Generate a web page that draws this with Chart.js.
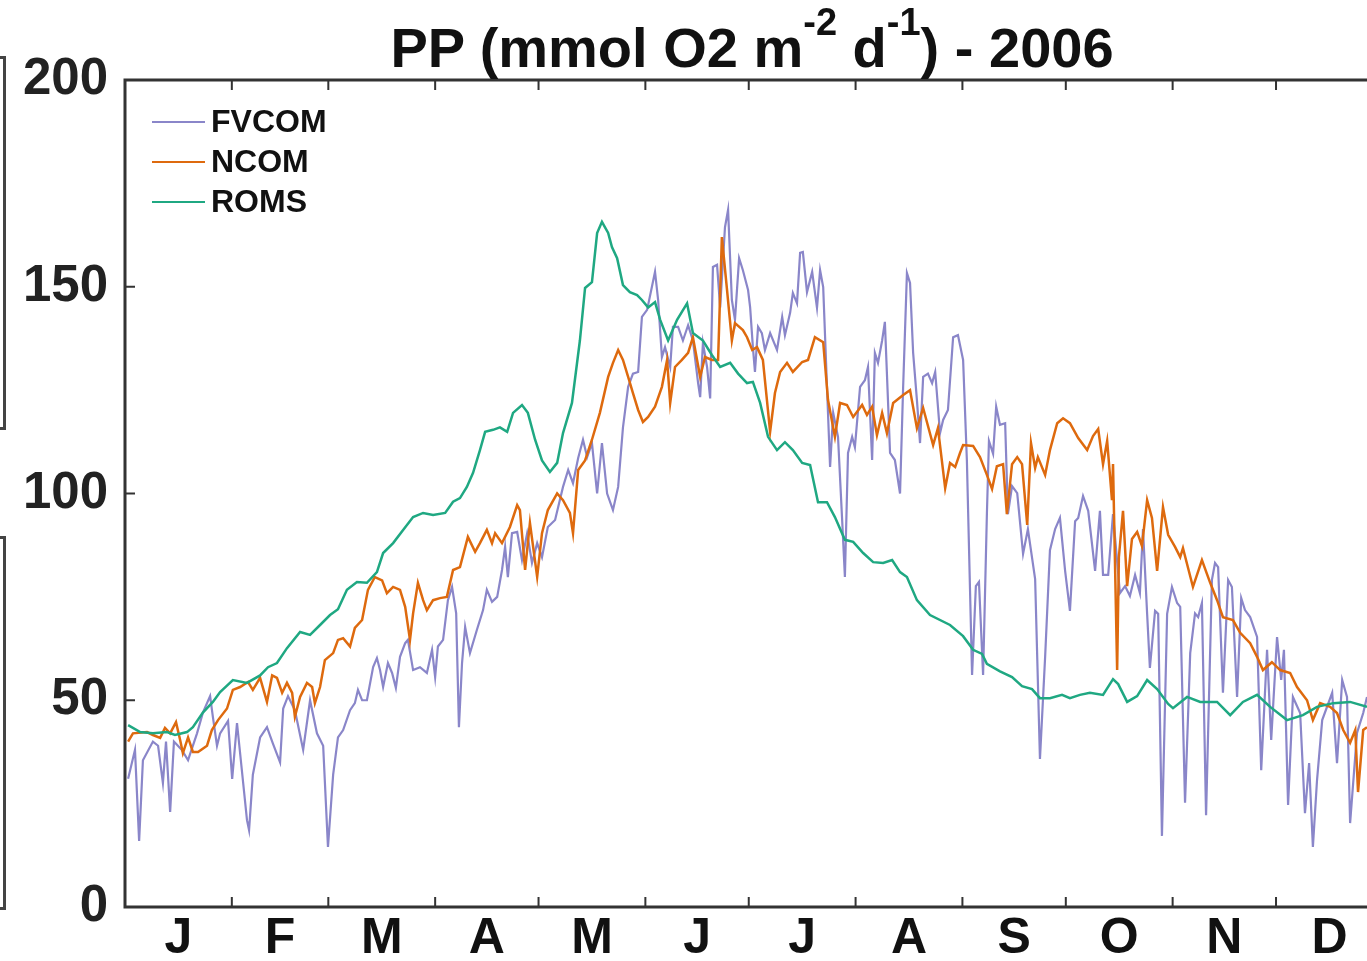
<!DOCTYPE html>
<html>
<head>
<meta charset="utf-8">
<script src="https://cdn.jsdelivr.net/npm/chart.js@4.4.0/dist/chart.umd.min.js"></script>
<style>
  html, body { margin: 0; padding: 0; background: #fff; }
  #wrap { position: relative; width: 1367px; height: 961px; overflow: hidden; }
  #titulo {
    position: absolute; left: 137px; width: 1230px; top: 20px;
    text-align: center; font: bold 56px 'Liberation Sans', Arial, sans-serif;
    color: #111; line-height: 56px; white-space: nowrap;
  }
  #titulo sup { font-size: 38px; position: relative; top: -32px; vertical-align: baseline; line-height: 0; }
  .vecino { position: absolute; left: -12px; width: 12px; border: 3px solid #444; }
</style>
</head>
<body>
<div id="wrap">
  <div class="vecino" style="top:56px;height:368px"></div>
  <div class="vecino" style="top:536px;height:368px"></div>
  <canvas id="ppChart" width="1367" height="961"></canvas>
  <div id="titulo">PP (mmol O2 m<sup>-2</sup> d<sup>-1</sup>) - 2006</div>
</div>
<script>
// dias del año y valores
const fvcomDay = [0.9,2.9,4.1,5.2,8.1,9.6,11.0,11.9,13.1,14.2,16.5,18.3,20.9,22.6,24.7,25.5,26.7,27.6,29.9,31.1,32.5,35.4,36.0,37.1,39.2,41.2,42.9,45.0,45.9,47.3,49.3,51.7,53.7,55.7,57.5,58.9,60.4,61.8,
  63.3,65.3,66.7,67.6,68.8,70.2,72.0,73.1,74.0,74.9,76.3,77.5,78.6,79.8,81.3,82.1,83.6,85.6,87.6,89.1,90.0,90.8,92.3,93.7,94.9,96.1,96.9,97.8,98.7,100.1,102.1,103.9,105.0,106.5,108.0,109.4,110.3,111.1,112.3,113.8,115.2,116.7,118.1,119.6,121.0,122.7,
  124.8,127.1,128.6,130.0,131.5,132.9,134.1,135.5,137.0,138.4,139.9,141.6,143.1,144.5,146.0,147.4,148.9,150.0,151.5,152.9,153.8,154.7,155.8,156.7,158.2,159.0,160.5,161.9,163.4,164.8,166.3,166.9,167.7,168.9,169.8,170.6,171.8,172.7,174.1,175.0,176.1,177.0,178.2,179.3,180.8,
  181.4,182.2,182.8,183.7,184.8,185.7,187.2,189.2,190.7,191.5,193.0,193.8,195.0,195.9,196.7,197.9,199.4,200.8,201.7,202.6,203.7,204.6,205.5,206.9,208.1,208.9,209.8,211.0,211.8,213.3,214.7,215.6,216.8,217.6,218.5,219.7,220.5,222.0,223.4,224.9,225.8,226.9,227.8,228.7,229.8,230.7,231.6,233.0,234.2,235.1,236.5,237.4,238.8,240.3,241.7,243.2,
  244.3,245.8,246.9,247.8,249.0,250.1,250.7,251.9,252.8,253.9,255.4,256.2,257.4,258.9,260.6,262.0,264.1,265.5,267.0,268.4,269.9,271.3,272.8,274.2,275.7,276.6,278.0,279.5,281.5,282.9,283.8,285.3,286.7,288.7,290.2,291.6,293.1,294.5,295.4,296.6,297.4,298.9,299.8,300.9,302.4,
  303.8,305.3,306.2,307.6,309.1,310.5,311.4,312.5,313.7,315.4,316.3,317.2,318.6,320.1,321.2,322.7,323.9,325.0,326.5,328.5,329.7,331.4,332.6,334.3,335.5,336.3,337.5,338.9,341.0,342.4,343.6,344.7,345.9,347.4,350.3,351.7,353.2,354.6,355.5,357.5,359.3,360.4];
const fvcomVal = [31,38,16,35.5,40,39,30,40,23,40,38,35.5,42,47,51,46,39,42,45,31,44.5,21,18.6,32,41,43.5,39.6,35,48,51,47.6,38,50,42,39,14.5,32,41,
  42.8,47.6,49.3,52.5,50,50,58,60.2,57.3,53.2,59,56.6,53,60.5,63.8,64.6,57.3,58,56.6,62.2,55.6,63,64.6,74.2,77.4,71,43.5,59,67.7,61.4,67,71.8,76.7,73.8,75,81.5,87.1,79.8,90.4,90.7,83.9,90.4,83.2,88,84.6,91.9,
  93.6,101.6,105.7,102.5,108.6,113,108.8,112.2,100,112.2,100,96,101.6,116,125.8,129,129.4,142.7,144.4,150,153.6,146.8,133,135.4,130.6,140.3,140.3,137,140.7,137,126.7,123.3,136.4,130.6,123,154.8,155.3,145,164.4,168.6,146.8,142,156.9,154,149.2,
  145,135.4,129.4,140.3,138.8,134.7,138.8,134.7,142.7,138.3,143.7,148.5,146,158.2,158.4,148.7,153.6,144.9,154,149.9,125.8,106.4,119.5,113.7,93.6,79.8,109.8,113.7,111.2,125.8,127.4,130.6,108.1,134,131.6,137,141.5,109.8,108.1,100,125.8,153.3,150.9,134,122.6,112.2,128.2,129,126.7,129.4,114.6,117.8,120.2,137.8,138.3,132.3,
  107.9,56.1,77.6,78.6,56.1,95,112.7,109.6,121,116.6,117,95,101.8,100.1,85.4,91.4,79.3,35.8,60.5,86.3,91.4,94.1,81.3,71.6,93.3,94.1,99.4,95.8,81.3,95.8,80.3,80.3,95,75.9,77.6,75.2,80.3,75.9,91.4,70.9,57.8,71.6,70.9,17.2,70.9,
  77.4,73.5,72.6,25.2,61.4,71,70.1,73.5,22.2,79.1,83.2,82.2,51.8,79.1,77.4,50.8,74.7,71.8,70.1,65.3,33.1,62.2,40.4,65.3,54.9,62.2,24.7,50.8,46.9,22.7,34.8,14.5,30.7,45.2,51.8,34.8,54.9,50.8,20.3,42.1,46.9,50.8];

const ncomDay = [0.9,2.3,6.4,8.1,10.2,11.6,13.1,14.8,16.0,16.8,18.3,19.7,21.2,23.8,25.2,27.0,29.6,31.3,33.4,35.7,37.1,39.2,41.2,42.7,44.1,45.6,47.0,48.5,49.3,50.8,52.8,54.3,55.1,56.6,58.0,60.4,61.8,
  63.3,65.3,66.7,68.8,70.5,72.5,74.6,76.0,77.8,79.8,81.3,82.7,83.6,85.0,86.5,87.6,89.4,91.4,93.4,95.2,97.2,99.5,101.6,103.0,105.0,106.5,107.4,109.4,111.7,113.8,114.6,116.1,117.5,119.6,121.0,122.7,
  125.4,127.1,129.1,130.0,131.5,133.5,135.5,137.8,140.2,141.6,143.1,144.5,146.0,147.4,148.9,150.3,151.8,153.8,155.8,157.3,158.2,159.6,161.6,163.4,164.8,166.9,168.3,170.3,172.1,173.2,174.7,176.1,177.0,179.3,
  180.5,182.0,183.4,185.1,187.2,188.6,190.1,192.1,193.8,196.5,198.2,200.2,202.6,204.0,206.0,207.5,209.5,211.3,213.9,215.3,216.8,218.2,219.7,221.1,222.9,225.8,227.8,229.8,231.6,234.5,235.9,238.0,239.4,240.9,242.3,
  243.2,246.1,248.1,250.1,251.6,253.0,254.8,255.9,257.4,258.9,260.3,261.8,262.9,264.1,264.9,267.0,268.4,270.5,272.2,274.2,276.6,279.2,280.9,282.4,283.8,285.0,286.4,286.7,287.9,288.4,289.6,290.8,292.2,293.7,295.1,296.6,298.0,299.5,301.2,302.7,
  304.7,306.2,307.0,309.9,312.5,314.9,316.9,318.6,321.5,323.6,326.5,328.5,330.2,332.8,335.2,338.1,340.1,343.0,344.7,346.8,349.7,351.7,353.5,355.5,357.0,357.8,359.3,360.4];
const ncomVal = [40,42,42.3,41.6,40.9,43.3,42,44.7,40.4,37.2,41,37.5,37.5,39,42.8,45.2,48,52.5,53.2,54.4,52.5,55.4,49.6,56,55.4,51.8,54.2,51.8,46,50.8,54.2,53.2,49.3,53.2,59.7,61.4,64.6,
  65,63,67.5,69.4,76.7,79.8,79,75.9,77.4,76.7,72.6,64.6,71,78.4,74.2,71.8,74.2,74.7,75,81.5,82.2,89.5,85.9,88,91.2,88,90.4,88,91.9,97.2,96,81.5,92.9,79.8,90.4,96,
  100,98.4,95.3,90.4,105.7,108,113,119.5,128.2,131.6,134.7,132.3,128.2,124.3,120.2,117.3,118.5,121,125.8,132.3,121.9,130.6,132.3,134,137.8,128.2,133,132.3,132.3,162,149.2,137,141.2,139.5,
  137.8,134.7,135.4,132.3,114.9,124.3,129.4,131.6,129.4,131.8,132.3,137.8,136.6,122.6,113.7,121.9,121.4,118.5,121.4,119,121,114.1,119.5,114.6,121.9,123.8,125,115.8,120.7,111.7,115.8,101.3,107.4,106.4,109.8,
  111.7,111.5,108.8,104.5,101.1,106.6,107.1,95,107.1,108.8,107.1,92.4,112.2,106.2,108.8,104.5,110.5,117,118.2,117,113.4,110.5,113.9,115.6,107.1,112.7,98.4,107.1,57.3,84.6,95.8,77.6,89,90.7,87.3,98.4,94.1,81.3,96.7,90,
  87.1,84.6,86.8,77.4,83.9,78.4,74.2,70.1,69.4,66.3,63.8,60.5,57.3,59.2,57.3,56.6,53.2,50,45.2,49.3,48.4,46.9,42.8,39.7,42.8,27.8,42.8,43.5];

const romsDay = [0.9,4.4,8.1,12.2,14.5,18.0,19.7,22.6,25.5,27.6,31.3,35.4,39.2,41.5,44.1,47.0,50.8,53.7,56.6,59.5,61.8,64.4,67.3,70.2,73.1,74.9,77.8,80.7,83.6,86.5,89.4,92.9,95.2,97.2,99.2,101.0,103.0,104.5,106.8,108.8,110.9,112.6,115.2,116.9,119.0,121.0,123.3,125.4,127.1,129.7,
  132.0,133.5,135.5,137.0,138.4,140.2,141.3,142.8,144.5,146.5,148.6,150.0,151.8,153.8,155.3,157.6,160.2,163.1,164.8,167.7,170.3,172.7,175.6,177.9,180.5,182.2,184.3,186.6,189.2,191.5,193.8,196.5,198.8,201.1,203.7,206.0,208.9,211.3,214.2,217.1,220.0,222.6,224.9,226.9,229.8,233.6,
  239.4,243.2,246.1,248.7,250.1,253.9,257.4,260.3,263.2,265.5,268.4,271.9,274.2,277.1,280.0,283.8,286.7,288.2,290.8,293.7,296.6,299.5,302.7,304.1,308.2,312.0,316.9,320.7,324.4,328.5,332.3,337.2,341.8,345.9,350.6,355.5,360.4];
const romsVal = [44,42.3,42,42.3,41.6,42.3,43.5,47,49.6,52,54.9,54.2,56,58,59,62.6,66.5,65.8,68.2,70.6,72,76.7,78.6,78.4,81,85.6,88,91.2,94.3,95.3,94.8,95.3,98,98.9,101.6,105,110.5,114.9,115.4,116,114.9,119.5,121.4,119.5,113,108,105.2,107.4,114.6,121.9,
  137,149.7,151.1,163,165.7,163,159.6,156.9,150.4,148.7,148,146.8,145,146.3,142,137,142,146,138.8,137,133.5,130.6,131.6,129,126.7,127,121.9,113.7,110.5,112.4,110.5,107.4,106.9,97.9,97.9,94.3,88.8,88.3,85.6,83.4,83.2,83.9,81,79.8,74.2,70.6,
  68.2,65.5,62.2,61.2,58.8,57,55.6,53.4,52.7,50.5,50.5,51.3,50.5,51.3,51.8,51.3,55.1,53.9,49.6,51,54.9,52.7,49.1,48.1,50.8,49.6,49.6,46.4,49.6,51.3,48.4,45.2,46.4,48.4,49.3,49.6,48.4];

// ejes: inicio de cada mes (marcas) y mitad de mes (letras)
const monthStart = [31,59,90,120,151,181,212,243,273,304,334];
const monthMid = [15.5,45,74.5,105,135.5,166,196.5,227.5,258,288.5,319,349.5];
const monthLabels = ['J','F','M','A','M','J','J','A','S','O','N','D'];
const yTicks = [0,50,100,150,200];

const FONT = "'Liberation Sans', Arial, sans-serif";
const AXIS = '#333';

function toPoints(days, vals) {
  return days.map((d, i) => ({ x: d, y: vals[i] }));
}

// caja y marcas hacia adentro estilo matlab
const boxPlugin = {
  id: 'box',
  afterDraw(chart) {
    const { ctx, chartArea: a, scales } = chart;
    ctx.save();
    ctx.strokeStyle = AXIS;
    ctx.lineWidth = 3;
    ctx.beginPath();
    ctx.moveTo(chart.width + 5, a.top); ctx.lineTo(a.left, a.top);
    ctx.lineTo(a.left, a.bottom); ctx.lineTo(chart.width + 5, a.bottom);
    ctx.stroke();
    ctx.lineWidth = 2;
    ctx.beginPath();
    monthStart.forEach(d => {
      const x = scales.x.getPixelForValue(d);
      ctx.moveTo(x, a.bottom); ctx.lineTo(x, a.bottom - 10);
      ctx.moveTo(x, a.top); ctx.lineTo(x, a.top + 10);
    });
    yTicks.slice(1, -1).forEach(v => {
      const y = scales.y.getPixelForValue(v);
      ctx.moveTo(a.left, y); ctx.lineTo(a.left + 10, y);
    });
    ctx.stroke();
    ctx.restore();
  }
};

// leyenda dentro del area, arriba a la izquierda
const legendPlugin = {
  id: 'legendInside',
  afterDraw(chart) {
    const { ctx, chartArea: a } = chart;
    ctx.save();
    ctx.font = 'bold 32px ' + FONT;
    ctx.textBaseline = 'middle';
    chart.data.datasets.forEach((ds, i) => {
      const y = a.top + 42 + i * 40;
      ctx.strokeStyle = ds.borderColor;
      ctx.lineWidth = 2;
      ctx.beginPath();
      ctx.moveTo(a.left + 27, y); ctx.lineTo(a.left + 80, y);
      ctx.stroke();
      ctx.fillStyle = '#111';
      ctx.fillText(ds.label, a.left + 86, y + 1);
    });
    ctx.restore();
  }
};

new Chart(document.getElementById('ppChart'), {
  type: 'line',
  data: {
    datasets: [
      { label: 'FVCOM', data: toPoints(fvcomDay, fvcomVal), borderColor: '#8a86c9', borderWidth: 2.2, order: 3 },
      { label: 'NCOM', data: toPoints(ncomDay, ncomVal), borderColor: '#de6a0e', borderWidth: 2.5, order: 2 },
      { label: 'ROMS', data: toPoints(romsDay, romsVal), borderColor: '#1fa882', borderWidth: 2.5, order: 1 }
    ]
  },
  options: {
    responsive: false,
    animation: false,
    devicePixelRatio: 1,
    layout: { padding: { top: 80, right: 0, bottom: 0, left: 0 } },
    elements: { point: { radius: 0 }, line: { tension: 0 } },
    plugins: { legend: { display: false }, tooltip: { enabled: false } },
    scales: {
      x: {
        type: 'linear', min: 0, max: 360.4,
        afterFit(s) { s.height = 54; },
        afterBuildTicks(s) { s.ticks = monthMid.map(v => ({ value: v })); },
        grid: { display: false, drawTicks: false },
        border: { display: false },
        ticks: {
          autoSkip: false, maxRotation: 0, padding: 2, color: '#111',
          font: { family: FONT, weight: 'bold', size: 50 },
          callback(v) { return monthLabels[monthMid.indexOf(v)]; }
        }
      },
      y: {
        min: 0, max: 200,
        afterFit(s) { s.width = 125; },
        afterBuildTicks(s) { s.ticks = yTicks.map(v => ({ value: v })); },
        grid: { display: false, drawTicks: false },
        border: { display: false },
        ticks: { padding: 17, color: '#222', font: { family: FONT, weight: 'bold', size: 51 } }
      }
    }
  },
  plugins: [boxPlugin, legendPlugin]
});
</script>
</body>
</html>
